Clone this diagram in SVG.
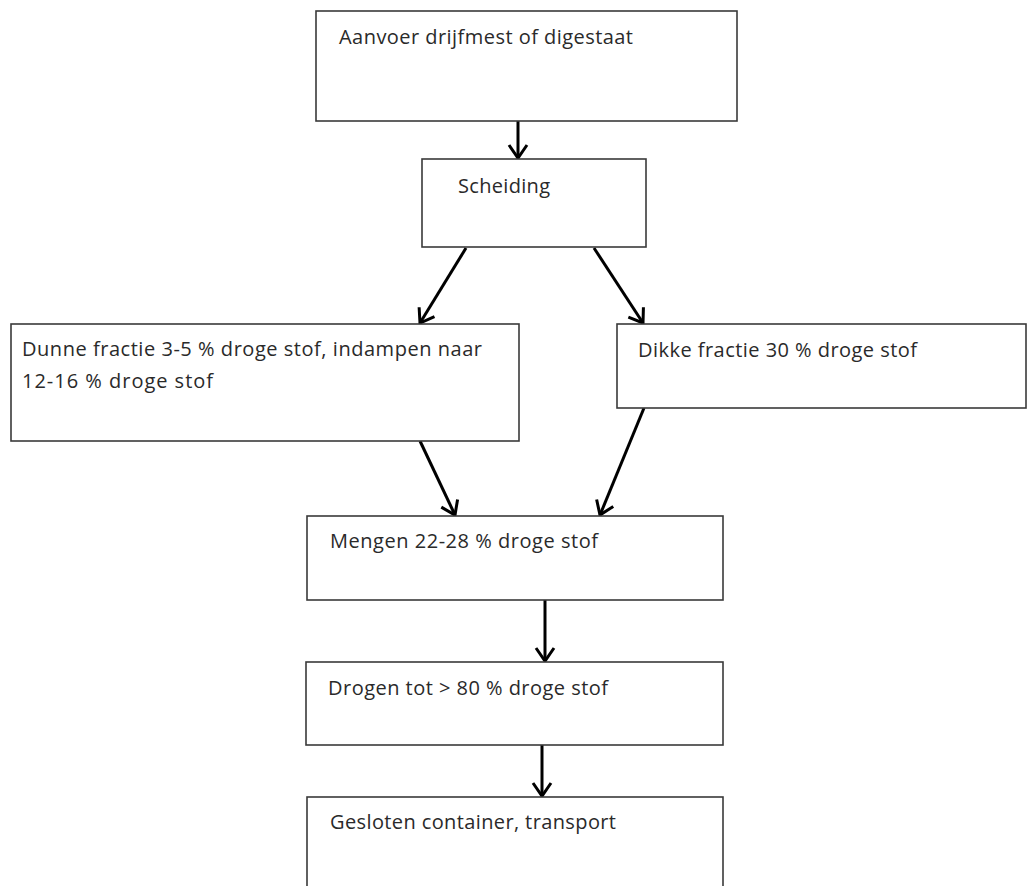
<svg xmlns="http://www.w3.org/2000/svg" width="1027" height="886" viewBox="0 0 1027 886">
<style>
.box{fill:#fff;stroke:#3a3a3a;stroke-width:1.6}
.t{font-family:"Open Sans","Liberation Sans",sans-serif;font-size:20px;fill:#2a2a2a}
.c{stroke:#000;stroke-width:3;fill:none}
</style>
<defs>
<marker id="ah" viewBox="0 0 18 22" refX="15" refY="11" markerWidth="18" markerHeight="22" markerUnits="userSpaceOnUse" orient="auto">
<path d="M2,2 L15,11 L2,20" fill="none" stroke="#000" stroke-width="3"/>
</marker>
</defs>
<rect width="1027" height="886" fill="#fff"/>
<g id="connectors">
<line class="c" x1="518" y1="121" x2="518" y2="158" marker-end="url(#ah)"/>
<line class="c" x1="466" y1="248" x2="420" y2="323" marker-end="url(#ah)"/>
<line class="c" x1="594" y1="248" x2="643" y2="323" marker-end="url(#ah)"/>
<line class="c" x1="420" y1="441" x2="455" y2="515" marker-end="url(#ah)"/>
<line class="c" x1="644" y1="408" x2="600" y2="515" marker-end="url(#ah)"/>
<line class="c" x1="545" y1="600" x2="545" y2="661" marker-end="url(#ah)"/>
<line class="c" x1="542" y1="745" x2="542" y2="796" marker-end="url(#ah)"/>
</g>
<g id="n1"><rect class="box" x="316" y="11" width="421" height="110"/><text class="t" x="339" y="44" textLength="294" lengthAdjust="spacing">Aanvoer drijfmest of digestaat</text></g>
<g id="n2"><rect class="box" x="422" y="159" width="224" height="88"/><text class="t" x="458" y="193" textLength="92" lengthAdjust="spacing">Scheiding</text></g>
<g id="n3"><rect class="box" x="11" y="324" width="508" height="117"/><text class="t" x="22" y="356" textLength="460" lengthAdjust="spacing">Dunne fractie 3-5 % droge stof, indampen naar</text><text class="t" x="22" y="388" textLength="191" lengthAdjust="spacing">12-16 % droge stof</text></g>
<g id="n4"><rect class="box" x="617" y="324" width="409" height="84"/><text class="t" x="638" y="357" textLength="279" lengthAdjust="spacing">Dikke fractie 30 % droge stof</text></g>
<g id="n5"><rect class="box" x="307" y="516" width="416" height="84"/><text class="t" x="330" y="548" textLength="268" lengthAdjust="spacing">Mengen 22-28 % droge stof</text></g>
<g id="n6"><rect class="box" x="306" y="662" width="417" height="83"/><text class="t" x="328" y="695" textLength="280" lengthAdjust="spacing">Drogen tot &gt; 80 % droge stof</text></g>
<g id="n7"><rect class="box" x="307" y="797" width="416" height="100"/><text class="t" x="330" y="829" textLength="286" lengthAdjust="spacing">Gesloten container, transport</text></g>
</svg>
